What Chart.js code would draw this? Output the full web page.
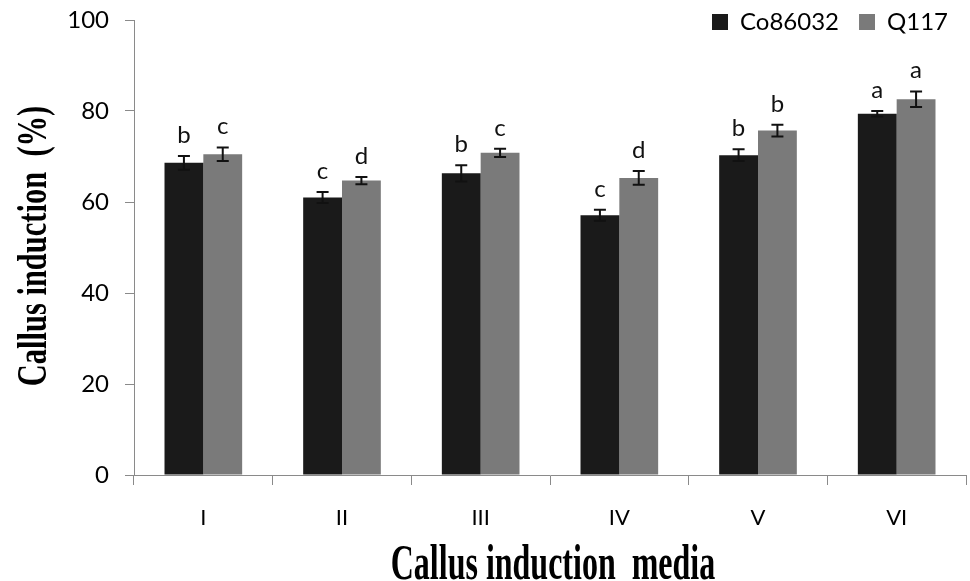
<!DOCTYPE html>
<html lang="en">
<head>
    <meta charset="UTF-8">
    <title>Callus induction</title>
    <script src="https://cdn.jsdelivr.net/npm/chart.js"></script>
    <style>
        html, body { margin: 0; padding: 0; background: #fff; }
        #wrap { width: 970px; height: 581px; }
    </style>
</head>
<body>
    <div id="wrap"><canvas id="callusChart" width="970" height="581"></canvas></div>
    <script>
        // media and values
        const media = ['I', 'II', 'III', 'IV', 'V', 'VI']
        const co86032 = [68.6, 61.0, 66.3, 57.1, 70.3, 79.4]
        const q117 = [70.5, 64.7, 70.8, 65.3, 75.7, 82.6]
        const coErr = [1.5, 1.2, 1.8, 1.2, 1.3, 0.6]
        const qErr = [1.5, 0.8, 0.9, 1.5, 1.3, 1.7]
        const coLetters = ['b', 'c', 'b', 'c', 'b', 'a']
        const qLetters = ['c', 'd', 'c', 'd', 'b', 'a']
        const yTicks = [0, 20, 40, 60, 80, 100]

        const xTitle = 'Callus induction  media'
        const yTitle = 'Callus induction  (%)'

        const errors = [coErr, qErr]
        const letters = [coLetters, qLetters]

        // error bars + significance letters
        const errorBars = {
            id: 'errorBars',
            afterDatasetsDraw(chart) {
                const ctx = chart.ctx
                const y = chart.scales.y
                ctx.save()
                ctx.strokeStyle = '#111'
                ctx.lineWidth = 2
                ctx.fillStyle = '#111'
                ctx.font = '24px Lato'
                ctx.textAlign = 'center'
                ctx.textBaseline = 'alphabetic'
                chart.data.datasets.forEach((ds, d) => {
                    const meta = chart.getDatasetMeta(d)
                    meta.data.forEach((bar, i) => {
                        const v = ds.data[i]
                        const e = errors[d][i]
                        const top = y.getPixelForValue(v + e)
                        const bot = y.getPixelForValue(v - e)
                        const cx = bar.x
                        ctx.beginPath()
                        ctx.moveTo(cx, top); ctx.lineTo(cx, bot)
                        ctx.moveTo(cx - 6, top); ctx.lineTo(cx + 6, top)
                        ctx.moveTo(cx - 6, bot); ctx.lineTo(cx + 6, bot)
                        ctx.stroke()
                        ctx.fillText(letters[d][i], cx, top - 13)
                    })
                })
                ctx.restore()
            }
        }

        // stretched serif axis titles
        const axisTitles = {
            id: 'axisTitles',
            afterDraw(chart) {
                const ctx = chart.ctx
                ctx.save()
                ctx.fillStyle = '#000'
                ctx.font = 'bold 32px "Liberation Serif"'
                ctx.textAlign = 'center'
                ctx.textBaseline = 'alphabetic'
                ctx.translate(553, 579)
                ctx.scale(1, 1.55)
                ctx.fillText(xTitle, 0, 0)
                ctx.restore()

                ctx.save()
                ctx.fillStyle = '#000'
                ctx.font = 'bold 30.5px "Liberation Serif"'
                ctx.textAlign = 'center'
                ctx.textBaseline = 'alphabetic'
                ctx.translate(46, 246)
                ctx.rotate(-Math.PI / 2)
                ctx.scale(1, 1.39)
                ctx.fillText(yTitle, 0, 0)
                ctx.restore()
            }
        }

        // legend takes no room in the layout, then sits in the top-right corner
        const legendPos = {
            id: 'legendPos',
            beforeLayout(chart) {
                const lg = chart.legend
                if (lg && !lg._patched) {
                    const fit = lg.fit.bind(lg)
                    lg.fit = function () {
                        fit()
                        this._realHeight = this.height
                        this.height = 0
                    }
                    lg._patched = true
                }
            },
            afterLayout(chart) {
                const lg = chart.legend
                const pad = lg.options.labels.padding
                lg.top = 22 - pad - 12
                lg.height = lg._realHeight
                lg.bottom = lg.top + lg.height
                lg.right = 970 - 2
            }
        }

        const chart = new Chart(document.getElementById('callusChart'), {
            type: 'bar',
            data: {
                labels: media,
                datasets: [{
                    label: 'Co86032',
                    data: co86032,
                    backgroundColor: '#1a1a1a',
                    borderWidth: 0
                }, {
                    label: 'Q117',
                    data: q117,
                    backgroundColor: '#7a7a7a',
                    borderWidth: 0
                }]
            },
            options: {
                responsive: false,
                animation: false,
                layout: {
                    padding: { top: 20, right: 4, bottom: 0, left: 0 }
                },
                datasets: {
                    bar: { categoryPercentage: 0.56, barPercentage: 1.0 }
                },
                plugins: {
                    tooltip: { enabled: false },
                    legend: {
                        position: 'top',
                        align: 'end',
                        labels: {
                            color: '#000',
                            font: { family: 'Lato', size: 24 },
                            boxWidth: 16,
                            boxHeight: 16,
                            padding: 20
                        }
                    }
                },
                scales: {
                    x: {
                        grid: {
                            offset: true,
                            drawOnChartArea: false,
                            drawTicks: true,
                            tickLength: 10,
                            color: '#8a8a8a'
                        },
                        border: { color: '#8a8a8a', width: 1 },
                        ticks: {
                            color: '#000',
                            font: { family: 'Lato', size: 22 },
                            padding: 20
                        },
                        afterFit(scale) { scale.height = 106 }
                    },
                    y: {
                        min: 0,
                        max: 100,
                        afterBuildTicks(scale) {
                            scale.ticks = yTicks.map(v => ({ value: v }))
                        },
                        grid: {
                            drawOnChartArea: false,
                            drawTicks: true,
                            tickLength: 9,
                            color: '#8a8a8a'
                        },
                        border: { color: '#8a8a8a', width: 1 },
                        ticks: {
                            color: '#000',
                            font: { family: 'Lato', size: 24 },
                            padding: 16
                        },
                        afterFit(scale) {
                            scale.width = 134
                            scale.paddingTop = 10
                            scale.paddingBottom = 0
                        }
                    }
                }
            },
            plugins: [errorBars, axisTitles, legendPos]
        })
    </script>
</body>
</html>
